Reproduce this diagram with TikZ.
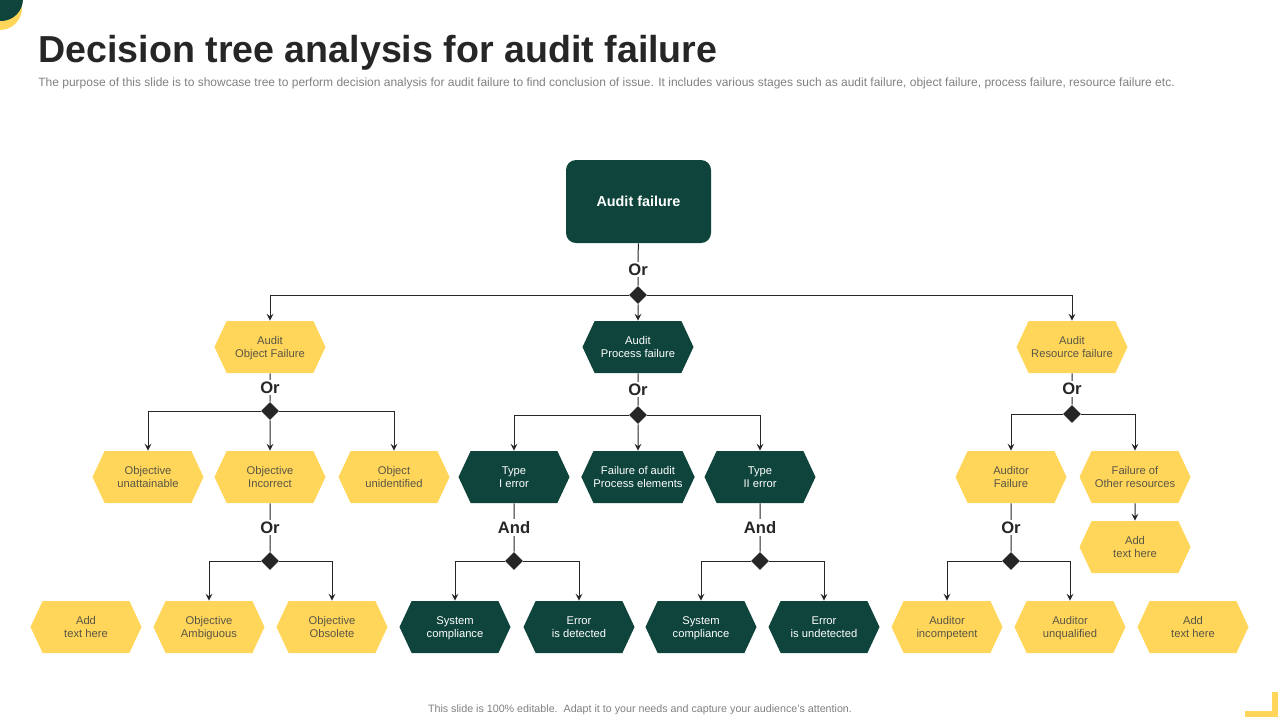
\documentclass[tikz,border=0pt]{standalone}
\usepackage{fontspec}
\setmainfont{Liberation Sans}
\usetikzlibrary{shapes.geometric,shapes.symbols}
\definecolor{deepgreen}{RGB}{14,68,60}
\definecolor{sunyellow}{RGB}{255,214,90}
\definecolor{inkgray}{RGB}{38,38,38}
\definecolor{softgray}{RGB}{128,128,128}
\definecolor{hextext}{RGB}{90,86,70}
\begin{document}
\begin{tikzpicture}[x=0.5pt,y=-0.5pt,>=stealth,
	hex/.style={signal,signal to=east and west,signal pointer angle=130,minimum width=55.5pt,minimum height=26pt,inner sep=0pt,text depth=0pt,align=center,font=\fontsize{5.6}{6.6}\selectfont},
	yhex/.style={hex,fill=sunyellow,text=hextext},
	ghex/.style={hex,fill=deepgreen,text=white},
	gate/.style={diamond,fill=inkgray,minimum width=9pt,minimum height=9pt,inner sep=0pt},
	logic/.style={fill=white,text=inkgray,inner sep=1pt,font=\fontsize{8.3}{9}\selectfont\bfseries},
	link/.style={line width=0.5pt,draw=inkgray},
	arr/.style={link,->}]
	\useasboundingbox (0,0) rectangle (1280,720);
	% corner marks
	\fill[sunyellow] (0,8) circle (11pt);
	\fill[deepgreen] (1,-1) circle (11pt);
	\draw[sunyellow,line width=3pt] (1245,714)--(1275,714)--(1275,692);
	% heading
	\node[anchor=base west,inner sep=0pt,text=inkgray,font=\fontsize{18.8}{20}\selectfont\bfseries] (title) at (38,62) {Decision tree analysis for audit failure};
	\node[anchor=base west,inner sep=0pt,text=softgray,font=\fontsize{6}{7}\selectfont] (subtitle) at (38,86) {The purpose of this slide is to showcase tree to perform decision analysis for audit failure to find conclusion of issue. It includes various stages such as audit failure, object failure, process failure, resource failure etc.};
	\node[inner sep=0pt,text=softgray,font=\fontsize{5.35}{6}\selectfont] (footer) at (640,710) {This slide is 100\% editable.\ \ Adapt it to your needs and capture your audience’s attention.};
	% root
	\node[fill=deepgreen,rounded corners=5pt,minimum width=72.5pt,minimum height=41.5pt,text=white,font=\fontsize{7.2}{8}\selectfont\bfseries] (root) at (638.5,201.5) {Audit failure};
	% gates
	\node[gate] (g0) at (638,295) {};
	\node[gate] (gL) at (270,411) {};
	\node[gate] (gM) at (638,415) {};
	\node[gate] (gR) at (1072,414) {};
	\node[gate] (gLL) at (270,561) {};
	\node[gate] (gT1) at (514,561) {};
	\node[gate] (gT2) at (760,561) {};
	\node[gate] (gAF) at (1011,561) {};
	% first level
	\node[yhex] (objf) at (270,347) {Audit\\Object Failure};
	\node[ghex] (procf) at (638,347) {Audit\\Process failure};
	\node[yhex] (resf) at (1072,347) {Audit\\Resource failure};
	% second level
	\node[yhex] (unatt) at (148,477) {Objective\\unattainable};
	\node[yhex] (incor) at (270,477) {Objective\\Incorrect};
	\node[yhex] (unid) at (394,477) {Object\\unidentified};
	\node[ghex] (typeone) at (514,477) {Type\\I error};
	\node[ghex] (elem) at (638,477) {Failure of audit\\Process elements};
	\node[ghex] (typetwo) at (760,477) {Type\\II error};
	\node[yhex] (audf) at (1011,477) {Auditor\\Failure};
	\node[yhex] (other) at (1135,477) {Failure of\\Other resources};
	\node[yhex] (addmid) at (1135,547) {Add\\text here};
	% third level
	\node[yhex] (addL) at (86,627) {Add\\text here};
	\node[yhex] (ambig) at (209,627) {Objective\\Ambiguous};
	\node[yhex] (obsol) at (332,627) {Objective\\Obsolete};
	\node[ghex] (sysA) at (455,627) {System\\compliance};
	\node[ghex] (detect) at (579,627) {Error\\is detected};
	\node[ghex] (sysB) at (701,627) {System\\compliance};
	\node[ghex] (undet) at (824,627) {Error\\is undetected};
	\node[yhex] (incomp) at (947,627) {Auditor\\incompetent};
	\node[yhex] (unqual) at (1070,627) {Auditor\\unqualified};
	\node[yhex] (addR) at (1193,627) {Add\\text here};
	% connectors
	\draw[link] (root) -- node[logic,pos=0.62]{Or} (g0);
	\draw[arr] (g0) -| (objf);
	\draw[arr] (g0) -- (procf);
	\draw[arr] (g0) -| (resf);
	\draw[link] (objf) -- node[logic]{Or} (gL);
	\draw[link] (procf) -- node[logic]{Or} (gM);
	\draw[link] (resf) -- node[logic]{Or} (gR);
	\draw[arr] (gL) -| (unatt);
	\draw[arr] (gL) -- (incor);
	\draw[arr] (gL) -| (unid);
	\draw[arr] (gM) -| (typeone);
	\draw[arr] (gM) -- (elem);
	\draw[arr] (gM) -| (typetwo);
	\draw[arr] (gR) -| (audf);
	\draw[arr] (gR) -| (other);
	\draw[arr] (other) -- (addmid);
	\draw[link] (incor) -- node[logic]{Or} (gLL);
	\draw[link] (typeone) -- node[logic]{And} (gT1);
	\draw[link] (typetwo) -- node[logic]{And} (gT2);
	\draw[link] (audf) -- node[logic]{Or} (gAF);
	\draw[arr] (gLL) -| (ambig);
	\draw[arr] (gLL) -| (obsol);
	\draw[arr] (gT1) -| (sysA);
	\draw[arr] (gT1) -| (detect);
	\draw[arr] (gT2) -| (sysB);
	\draw[arr] (gT2) -| (undet);
	\draw[arr] (gAF) -| (incomp);
	\draw[arr] (gAF) -| (unqual);
\end{tikzpicture}
\end{document}
